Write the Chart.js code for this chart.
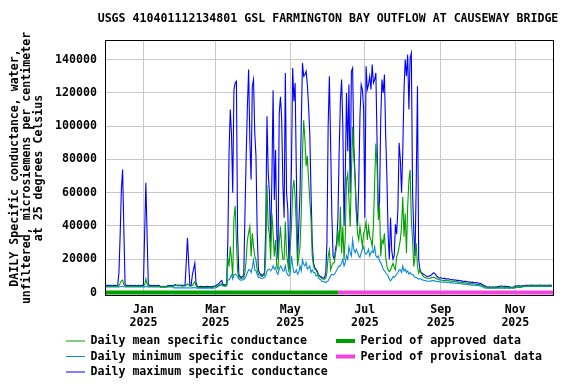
<!DOCTYPE html>
<html>
<head>
<meta charset="utf-8">
<script src="https://cdn.jsdelivr.net/npm/chart.js@4.4.1/dist/chart.umd.min.js"></script>
<style>
  html, body { margin: 0; padding: 0; background: #fff; }
  #wrap { width: 576px; height: 384px; }
</style>
</head>
<body>
<div id="wrap"><canvas id="chart" width="576" height="384"></canvas></div>
<script>
// daily values, index 0 = 2024-12-01
const maxVals = [
  4300,4200,4300,4300,4200,4300,4200,4300,4300,4200,4300,
  12000,35000,62000,74000,38000,5000,
  4200,4300,4200,4200,4300,4200,4200,4300,4200,4200,4300,4200,4200,4300,4200,
  35000,66000,35000,5000,
  4200,4300,4200,4200,4300,4200,4200,4300,4200,
  3600,3600,3700,3600,3600,3700,
  4200,4200,4300,4200,4200,
  4300,4800,4400,4300,4500,4400,4300,4300,4400,4300,
  17800,32800,17800,4200,4200,10600,14000,17600,6000,
  3600,3500,3600,3700,3600,3600,3500,3600,3700,3600,3600,3500,3600,3700,3800,4000,
  4500,5000,5600,6600,7200,5000,4600,4600,4800,
  30000,84000,110000,95000,60000,122000,126000,127000,34000,11000,
  9600,9000,9600,10000,47000,82000,112000,134000,91000,68000,
  124000,128000,96000,82000,36000,13600,11600,11000,10000,11000,
  12000,40000,106000,72000,60000,30000,68000,121600,55600,85600,
  35800,20000,107600,117600,104600,64600,45000,132000,60000,50000,
  14000,43000,75000,135000,115000,126000,72000,20000,40000,60000,
  100000,138000,130000,131000,133000,125000,112000,95000,60000,30000,
  18000,15000,14000,13000,11000,10000,9600,9000,8600,9000,
  11000,30000,100000,130000,90000,47000,22000,20000,26000,30000,
  45000,85000,115000,128000,100000,40000,70000,120000,85000,125000,
  60000,133000,135000,88000,70000,50000,40000,65000,106000,125000,
  122000,110000,45000,136000,122000,125000,130000,122000,137000,126000,
  128000,132000,90000,48000,55000,105000,128000,120000,131000,95000,
  70000,35000,20000,45000,25000,20000,22000,41000,35000,50000,
  90000,80000,60000,85000,122000,140000,130000,143000,110000,141000,
  144000,60000,36000,22000,66000,124000,20000,14000,12000,11500,
  11000,10600,10000,9600,9800,10000,10400,11000,11800,11600,
  10600,9600,9000,8600,9000,8600,8400,8600,8200,8000,
  8400,8000,7800,7600,7800,7400,7600,7200,7400,7000,
  7200,7000,6800,6600,6800,6400,6600,6200,6400,6000,
  6200,6000,5800,6000,5800,5600,5600,5200,4800,4400,
  4000,3600,3400,3300,3400,3200,3300,3400,3200,3400,
  3400,3600,3600,4000,3800,3800,3600,3800,3600,3600,
  3400,3300,3200,3200,3400,4000,3900,4000,4000,3900,
  4000,4100,4200,4400,4400,4300,4400,4400,4500,4400,
  4400,4400,4300,4400,4400,4500,4400,4400,4400,4300,
  4400,4400,4400,4500,4400,4400
];

const meanVals = [
  3800,3800,3900,3800,3800,3900,3800,3800,3900,3800,3800,
  4200,5500,7000,7500,5000,3900,
  3800,3800,3900,3800,3800,3900,3800,3800,3900,3800,3800,3900,3800,3800,3900,
  4500,8200,5000,3900,
  3800,3800,3900,3800,3800,3900,3800,3800,3900,
  3400,3400,3400,3400,3400,3400,
  3800,3800,3900,3800,3800,
  4000,4300,4200,4000,4200,4100,3900,3800,4000,3900,
  4200,5200,4600,3800,3800,4000,5500,6500,4200,
  3100,3000,3100,3200,3100,3100,3000,3100,3200,3100,3100,3000,3100,3200,3300,3500,
  3800,4000,4400,5000,5200,4400,4000,4000,4200,
  21000,15600,27600,20000,9600,44600,52000,31600,12800,9000,
  8600,8400,8600,8800,12000,19600,31600,36000,39600,21600,
  35600,27600,22000,19600,13600,10800,10400,10000,9600,10000,
  10400,22000,64600,39600,35000,20000,47600,35600,21600,31600,
  15600,14000,29600,39600,27600,20000,20000,42600,23600,17600,
  12000,27600,39600,61600,67600,57600,39600,16000,21600,27600,
  47600,83600,103600,92000,76000,82000,67600,55600,44000,22000,
  16000,14000,13600,12000,10400,9600,9000,8200,8000,8000,
  8600,12000,21600,25600,13600,16000,17600,18000,23600,27600,
  37600,27600,51600,23600,39600,19600,33600,67600,71600,55600,
  39600,71600,99600,81600,67600,47600,35600,31600,39600,33600,
  27600,35600,37600,42600,31600,39600,33600,31600,27600,40000,
  66000,89600,75600,43600,51600,21600,31600,29600,35600,21600,
  16000,13600,12600,13600,15600,17600,15000,13600,21600,23600,
  27600,31600,39600,57600,33600,47600,23600,51600,67600,73600,
  43600,31600,15600,21600,29600,15600,11600,13600,11600,10600,
  9600,9000,8800,8600,8600,8600,8800,9000,9200,9000,
  8600,8200,8000,7600,7600,7400,7200,7400,7200,7000,
  7200,7000,6800,6800,6800,6600,6600,6400,6400,6200,
  6200,6000,6000,5800,5800,5600,5600,5400,5400,5200,
  5200,5200,5000,5000,4800,4800,4800,4600,4200,3800,
  3400,3200,3000,3000,3000,2900,3000,3000,2900,3000,
  3000,3100,3200,3400,3200,3200,3100,3200,3200,3100,
  3000,3000,2900,3000,3100,3400,3400,3500,3400,3400,
  3500,3600,3800,4000,4000,3900,4000,4000,4100,4000,
  4000,4000,3900,4000,4000,4100,4000,4000,4000,3900,
  4000,4000,4000,4100,4000,4000
];

const minVals = [
  3400,3400,3400,3400,3400,3400,3400,3400,3400,3400,3400,
  3400,3500,3600,3600,3500,3400,
  3400,3400,3400,3400,3400,3400,3400,3400,3400,3400,3400,3400,3400,3400,3400,
  3400,3600,3500,3400,
  3400,3400,3400,3400,3400,3400,3400,3400,3400,
  3200,3200,3200,3200,3200,3200,
  3400,3400,3400,3400,3400,
  2800,2800,2800,2800,2800,2800,2800,2800,2800,2800,
  2800,2900,2800,2700,2700,2800,2900,3000,2800,
  2600,2600,2600,2600,2600,2600,2600,2600,2600,2600,2600,2600,2600,2600,2700,2900,
  3200,3600,4000,4400,4600,4000,3800,3800,4000,
  7600,7600,9000,10600,8000,10600,11000,10600,9600,8000,
  7600,7400,7600,7800,8400,10000,12000,13600,13600,12000,
  15000,19600,13600,13000,11000,9000,9000,8600,8400,8800,
  9000,10000,13000,14000,14000,13000,14000,16000,14000,15000,
  12000,11000,14000,16000,15000,13000,13000,16000,12000,10600,
  10000,12000,22000,16000,12000,12000,13600,11000,12000,16000,
  13000,19600,17000,16000,18000,14000,15000,16000,12000,13600,
  12000,12000,10000,10600,9000,8000,7600,6600,6600,6400,
  5800,6600,7000,8600,10000,11000,10600,11000,12000,13600,
  15000,16000,16000,18000,20000,16000,18000,22000,20000,27600,
  24000,22000,31600,26000,24000,26000,24000,22000,21000,24000,
  26000,27600,24000,23000,24000,26000,22000,24000,25000,24000,
  27600,22000,21000,22000,19000,18000,16000,14000,13000,12000,
  11000,10000,8000,7000,8000,9600,9000,10000,11000,12000,
  13600,13600,12000,16000,13000,14000,12000,13000,11000,12000,
  11000,11000,10000,9000,9000,8600,8000,8400,8000,7600,
  7400,7200,7000,6800,6800,6800,7000,7000,7200,7000,
  6800,6600,6600,6400,6400,6200,6200,6400,6200,6000,
  6000,6000,5800,5800,5800,5600,5600,5600,5400,5400,
  5400,5200,5200,5000,5000,4800,4800,4600,4600,4600,
  4400,4400,4400,4200,4200,4200,4000,3800,3400,3000,
  2800,2600,2600,2600,2500,2600,2600,2500,2600,2600,
  2600,2600,2700,2600,2600,2600,2500,2600,2600,2600,
  2500,2600,2600,2500,2600,3000,3000,3000,3100,3000,
  3200,3400,3600,3600,3600,3600,3700,3600,3600,3600,
  3600,3600,3600,3600,3700,3600,3600,3600,3600,3600,
  3600,3600,3600,3700,3600,3600
];

// approved / provisional periods (day index)
const approvedPeriod = [-1, 190];
const provisionalPeriod = [190, 367];

const tickDays = [31, 90, 151, 212, 274, 335];
const tickMonths = ['Jan', 'Mar', 'May', 'Jul', 'Sep', 'Nov'];
const tickYears = ['2025', '2025', '2025', '2025', '2025', '2025'];
const yTicks = [0, 20000, 40000, 60000, 80000, 100000, 120000, 140000];

const titleText = 'USGS 410401112134801 GSL FARMINGTON BAY OUTFLOW AT CAUSEWAY BRIDGE';
const yTitle = ['DAILY Specific conductance, water,', 'unfiltered, microsiemens per centimeter', 'at 25 degrees Celsius'];

const GREEN = '#00a000';
const LIGHTBLUE = '#0a8ad8';
const BLUE = '#0000ff';
const PINK = '#f044dc';
const FONT = 'bold 11.6px "DejaVu Sans Mono"';

const toPoints = arr => arr.map((v, i) => ({ x: i, y: v }));

function lineSet(label, vals, color) {
  return {
    label: label,
    data: toPoints(vals),
    borderColor: color,
    borderWidth: 1.1,
    pointRadius: 0,
    tension: 0,
    fill: false
  };
}

function periodSet(label, period, color) {
  return {
    label: label,
    data: [{ x: period[0], y: 0 }, { x: period[1], y: 0 }],
    borderColor: color,
    borderWidth: 4,
    pointRadius: 0,
    fill: false
  };
}

// title, axis title, frame and legend drawn by hand
const decor = {
  id: 'decor',
  afterDraw(chart) {
    const ctx = chart.ctx;
    const a = chart.chartArea;
    ctx.save();
    ctx.strokeStyle = '#000';
    ctx.lineWidth = 1;
    ctx.strokeRect(a.left + 0.5, a.top + 0.5, a.right - a.left - 1, a.bottom - a.top - 1);

    ctx.fillStyle = '#000';
    ctx.font = FONT;
    ctx.textAlign = 'center';
    ctx.textBaseline = 'middle';
    ctx.fillText(titleText, 328, 19);

    ctx.save();
    ctx.translate(0, 168);
    ctx.rotate(-Math.PI / 2);
    yTitle.forEach((t, i) => ctx.fillText(t, 0, 15 + i * 12));
    ctx.restore();

    const legend = [
      { text: 'Daily mean specific conductance', color: GREEN, x: 66, y: 341, w: 1 },
      { text: 'Daily minimum specific conductance', color: LIGHTBLUE, x: 66, y: 356.5, w: 1 },
      { text: 'Daily maximum specific conductance', color: BLUE, x: 66, y: 372, w: 1 },
      { text: 'Period of approved data', color: GREEN, x: 336, y: 341, w: 4 },
      { text: 'Period of provisional data', color: PINK, x: 336, y: 356.5, w: 4 }
    ];
    ctx.textAlign = 'left';
    legend.forEach(it => {
      ctx.strokeStyle = it.color;
      ctx.lineWidth = it.w;
      ctx.beginPath();
      ctx.moveTo(it.x, it.y);
      ctx.lineTo(it.x + 19, it.y);
      ctx.stroke();
      ctx.fillText(it.text, it.x + 24.5, it.y);
    });
    ctx.restore();
  }
};

const tickFont = { family: 'DejaVu Sans Mono', size: 11.6, weight: 'bold', lineHeight: 1.1 };

new Chart(document.getElementById('chart'), {
  type: 'line',
  data: {
    datasets: [
      lineSet('Daily mean specific conductance', meanVals, GREEN),
      lineSet('Daily minimum specific conductance', minVals, LIGHTBLUE),
      lineSet('Daily maximum specific conductance', maxVals, BLUE),
      periodSet('Period of approved data', approvedPeriod, GREEN),
      periodSet('Period of provisional data', provisionalPeriod, PINK)
    ]
  },
  options: {
    responsive: false,
    animation: false,
    layout: { padding: { top: 40, right: 22, left: 0, bottom: 0 } },
    scales: {
      x: {
        type: 'linear',
        min: -0.4,
        max: 366.6,
        afterBuildTicks: scale => { scale.ticks = tickDays.map(v => ({ value: v })); },
        afterFit: scale => { scale.height = 88; },
        grid: { color: '#c8c8c8', drawTicks: false },
        border: { display: false },
        ticks: {
          autoSkip: false,
          maxRotation: 0,
          padding: 8,
          color: '#000',
          font: tickFont,
          callback: v => {
            const i = tickDays.indexOf(v);
            return i >= 0 ? [tickMonths[i], tickYears[i]] : '';
          }
        }
      },
      y: {
        min: -2100,
        max: 151800,
        afterBuildTicks: scale => { scale.ticks = yTicks.map(v => ({ value: v })); },
        afterFit: scale => { scale.width = 105; },
        grid: { color: '#c8c8c8', drawTicks: false },
        border: { display: false },
        ticks: {
          padding: 8,
          color: '#000',
          font: tickFont,
          callback: v => String(v)
        }
      }
    },
    plugins: {
      legend: { display: false },
      title: { display: false },
      tooltip: { enabled: false }
    }
  },
  plugins: [decor]
});
</script>
</body>
</html>
